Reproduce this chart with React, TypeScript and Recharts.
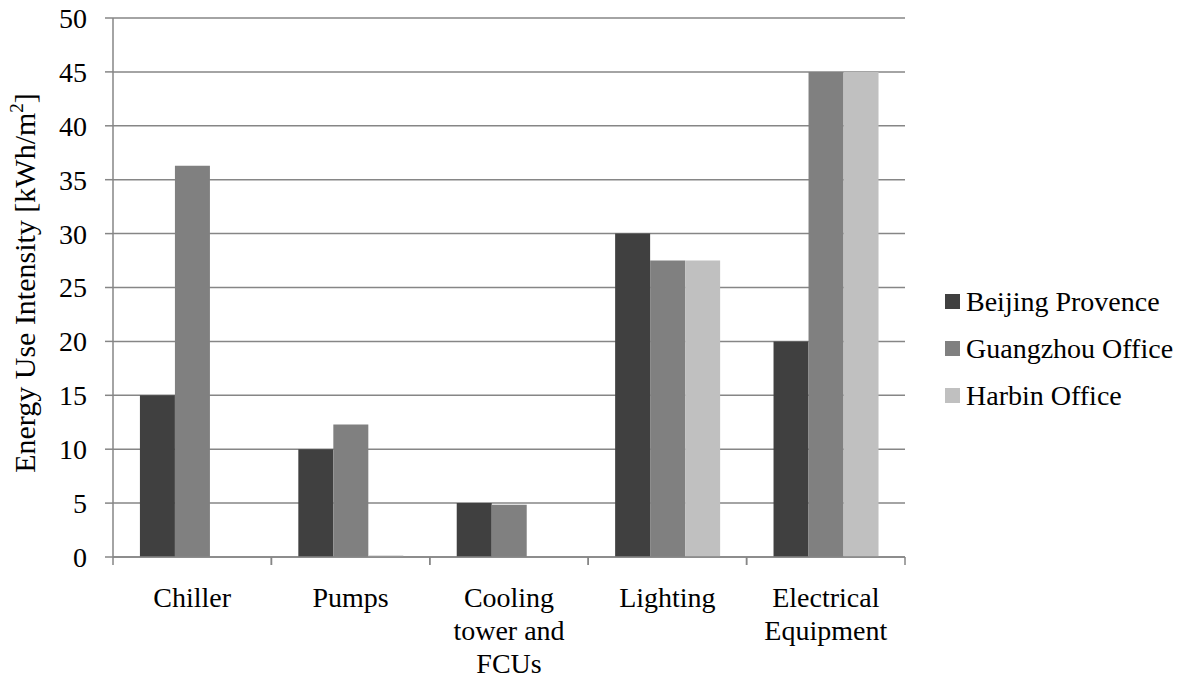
import React from "react";
import {
  BarChart,
  Bar,
  XAxis,
  YAxis,
  CartesianGrid,
  Legend,
} from "recharts";

// line breaks mark where each category label wraps
const categories = [
  "Chiller",
  "Pumps",
  "Cooling\ntower and\nFCUs",
  "Lighting",
  "Electrical\nEquipment",
];
const beijing = [15, 10, 5, 30, 20];
const guangzhou = [36.3, 12.3, 4.85, 27.5, 45];
const harbin = [0, 0.15, 0, 27.5, 45];
const yTicks = [0, 5, 10, 15, 20, 25, 30, 35, 40, 45, 50];

const series = [
  { key: "beijing", name: "Beijing Provence", color: "#404040" },
  { key: "guangzhou", name: "Guangzhou Office", color: "#808080" },
  { key: "harbin", name: "Harbin Office", color: "#c0c0c0" },
];

const data = categories.map((name, i) => ({
  name,
  beijing: beijing[i],
  guangzhou: guangzhou[i],
  harbin: harbin[i],
}));

const FONT = "'Liberation Serif', 'Times New Roman', serif";
const FONT_SIZE = 28;
const AXIS_GRAY = "#868686";
const LABEL_GAP = 50;
const TICK_LEN = 8;

// category label plus tick marks on both edges of its band
const CategoryTick = (props: any) => {
  const { x, y, payload } = props;
  const lines = String(payload.value).split("\n");
  const half = payload.offset ?? 0;
  const axisY = y - LABEL_GAP;
  return (
    <g>
      {[x - half, x + half].map((tx, i) => (
        <line
          key={i}
          x1={tx}
          x2={tx}
          y1={axisY}
          y2={axisY + TICK_LEN}
          stroke={AXIS_GRAY}
          strokeWidth={1.5}
        />
      ))}
      <text
        x={x}
        y={y}
        textAnchor="middle"
        style={{ fontFamily: FONT, fontSize: FONT_SIZE, fill: "#000" }}
      >
        {lines.map((line, i) => (
          <tspan key={i} x={x} dy={i === 0 ? 0 : 33}>
            {line}
          </tspan>
        ))}
      </text>
    </g>
  );
};

const YTitle = () => (
  <text
    x={0}
    y={0}
    transform="translate(35,283) rotate(-90)"
    textAnchor="middle"
    style={{ fontFamily: FONT, fontSize: 30, fill: "#000" }}
  >
    Energy Use Intensity [kWh/m
    <tspan dy={-12} fontSize={19}>
      2
    </tspan>
    <tspan dy={12}>]</tspan>
  </text>
);

const LegendBox = () => (
  <div style={{ fontFamily: FONT, fontSize: FONT_SIZE, color: "#000" }}>
    {series.map((s) => (
      <div
        key={s.key}
        style={{ display: "flex", alignItems: "center", height: 47 }}
      >
        <span
          style={{
            display: "inline-block",
            width: 15,
            height: 15,
            background: s.color,
            marginRight: 6,
          }}
        />
        <span style={{ whiteSpace: "nowrap" }}>{s.name}</span>
      </div>
    ))}
  </div>
);

export default function App() {
  return (
    <div style={{ position: "absolute", left: 0, top: 0, background: "#fff" }}>
      <BarChart
        width={1195}
        height={681}
        data={data}
        margin={{ top: 18, right: 40, bottom: 0, left: 0 }}
        barCategoryGap="17%"
        barGap={0}
      >
        <CartesianGrid
          vertical={false}
          stroke={AXIS_GRAY}
          strokeWidth={1.5}
        />
        <XAxis
          dataKey="name"
          height={124}
          interval={0}
          tickLine={false}
          tickSize={0}
          tickMargin={LABEL_GAP}
          axisLine={{ stroke: AXIS_GRAY, strokeWidth: 1.5 }}
          tick={<CategoryTick />}
        />
        <YAxis
          width={113}
          domain={[0, 50]}
          ticks={yTicks}
          interval={0}
          tickSize={8}
          tickMargin={18}
          axisLine={{ stroke: AXIS_GRAY, strokeWidth: 1.5 }}
          tickLine={{ stroke: AXIS_GRAY, strokeWidth: 1.5 }}
          tick={{ fontFamily: FONT, fontSize: FONT_SIZE, fill: "#000" }}
        />
        <Legend
          layout="vertical"
          align="right"
          verticalAlign="top"
          content={<LegendBox />}
          wrapperStyle={{ left: 945, top: 278, width: 250 }}
        />
        {series.map((s) => (
          <Bar
            key={s.key}
            dataKey={s.key}
            name={s.name}
            fill={s.color}
            isAnimationActive={false}
          />
        ))}
        <YTitle />
      </BarChart>
    </div>
  );
}
